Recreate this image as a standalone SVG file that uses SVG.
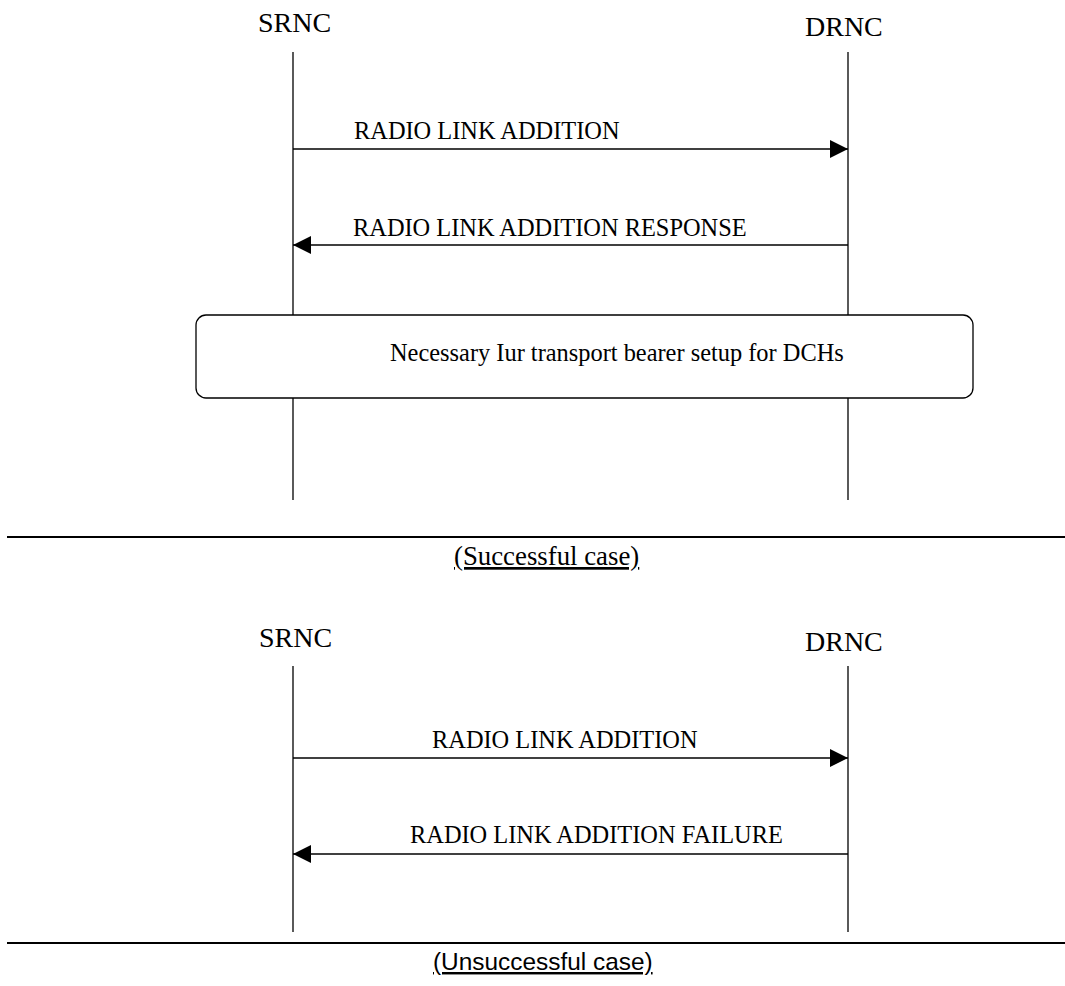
<svg xmlns="http://www.w3.org/2000/svg" width="1065" height="986" viewBox="0 0 1065 986">
  <style>
    .ent { font-family: "Liberation Serif", "Times New Roman", serif; font-size: 28px; fill: #000; }
    .msg { font-family: "Liberation Serif", "Times New Roman", serif; font-size: 24.4px; fill: #000; }
    .life { stroke: #000; stroke-width: 1.3; fill: none; }
    .arrow { stroke: #000; stroke-width: 1.5; fill: none; marker-end: url(#ah); }
    .sep { stroke: #000; stroke-width: 2; }
    .cap1 { font-family: "Liberation Serif", "Times New Roman", serif; font-size: 26.8px; text-decoration: underline; fill: #000; }
    .cap2 { font-family: "Liberation Sans", Arial, sans-serif; font-size: 24.4px; text-decoration: underline; fill: #000; }
  </style>
  <defs>
    <marker id="ah" markerUnits="userSpaceOnUse" markerWidth="18" markerHeight="18" refX="18" refY="9" orient="auto">
      <path d="M0,0 L18,9 L0,18 z" fill="#000"/>
    </marker>
  </defs>
  <rect x="0" y="0" width="1065" height="986" fill="#fff"/>

  <!-- Successful case -->
  <g id="srnc1">
    <text class="ent" x="258" y="32">SRNC</text>
    <line class="life" x1="293" y1="52" x2="293" y2="500"/>
  </g>
  <g id="drnc1">
    <text class="ent" x="805" y="36">DRNC</text>
    <line class="life" x1="848" y1="52" x2="848" y2="500"/>
  </g>
  <g id="connectors1">
    <line class="arrow" x1="293" y1="149" x2="848" y2="149"/>
    <text class="msg" x="354" y="139">RADIO LINK ADDITION</text>
    <line class="arrow" x1="848" y1="245" x2="293" y2="245"/>
    <text class="msg" x="353" y="236">RADIO LINK ADDITION RESPONSE</text>
  </g>
  <g id="bearer-setup">
    <rect x="196" y="315" width="777" height="83" rx="10" ry="10" fill="#fff" stroke="#000" stroke-width="1.3"/>
    <text class="msg" x="390" y="361">Necessary Iur transport bearer setup for DCHs</text>
  </g>
  <g id="caption1">
    <line class="sep" x1="7" y1="537" x2="1065" y2="537"/>
    <text class="cap1" x="454" y="565">(Successful case)</text>
  </g>

  <!-- Unsuccessful case -->
  <g id="srnc2">
    <text class="ent" x="259" y="647">SRNC</text>
    <line class="life" x1="293" y1="666" x2="293" y2="932"/>
  </g>
  <g id="drnc2">
    <text class="ent" x="805" y="651">DRNC</text>
    <line class="life" x1="848" y1="666" x2="848" y2="932"/>
  </g>
  <g id="connectors2">
    <line class="arrow" x1="293" y1="758" x2="848" y2="758"/>
    <text class="msg" x="432" y="748">RADIO LINK ADDITION</text>
    <line class="arrow" x1="848" y1="854" x2="293" y2="854"/>
    <text class="msg" x="410" y="843">RADIO LINK ADDITION FAILURE</text>
  </g>
  <g id="caption2">
    <line class="sep" x1="7" y1="943" x2="1065" y2="943"/>
    <text class="cap2" x="433" y="970">(Unsuccessful case)</text>
  </g>
</svg>
